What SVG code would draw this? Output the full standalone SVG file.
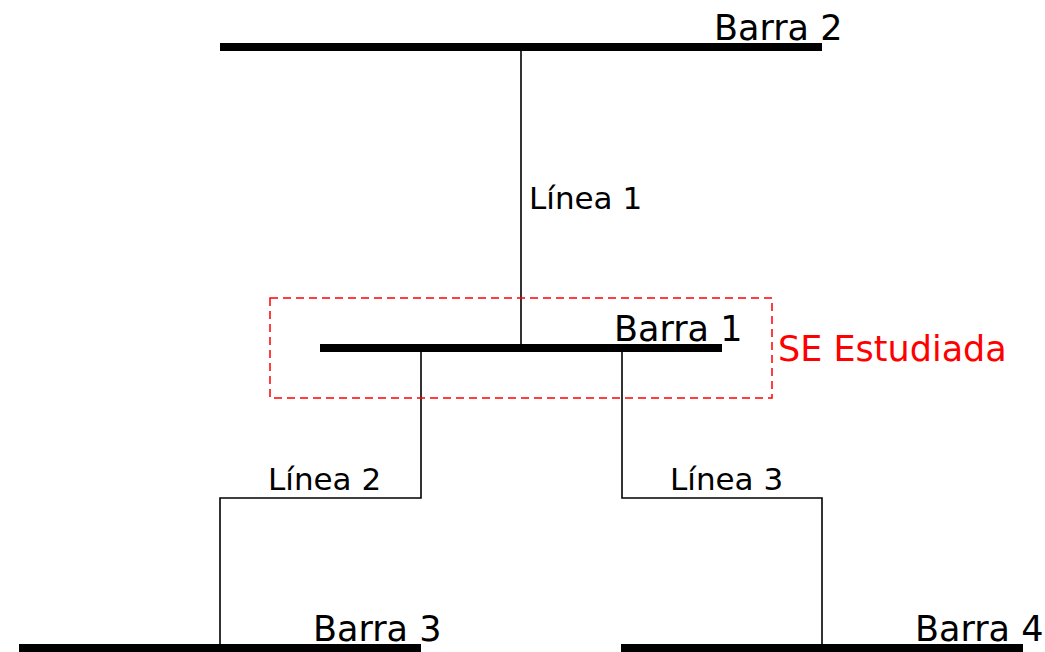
<svg xmlns="http://www.w3.org/2000/svg" width="1045" height="652" viewBox="0 0 1045 652">
<style>
.bus{stroke:#000;stroke-width:8;fill:none}
.ln{stroke:#000;stroke-width:1.6;fill:none}
.lbl{font-family:"DejaVu Sans",sans-serif;font-size:35px;fill:#000}
.llbl{font-family:"DejaVu Sans",sans-serif;font-size:31px;fill:#000}
.se{font-family:"DejaVu Sans",sans-serif;font-size:35px;fill:#ff0000}
</style>
<rect width="1045" height="652" fill="#fff"/>
<g id="connectors">
<path class="ln" d="M521 51V345"/>
<path class="ln" d="M421 352V498H220V645"/>
<path class="ln" d="M622 352V498H822V645"/>
</g>
<g id="se">
<rect x="270" y="298" width="502" height="100" fill="none" stroke="#ff0000" stroke-width="1.5" stroke-dasharray="8,5"/>
<text class="se" x="778" y="361">SE Estudiada</text>
</g>
<g id="barra2">
<path class="bus" d="M220 47H822"/>
<text class="lbl" x="714" y="40">Barra 2</text>
</g>
<g id="barra1">
<path class="bus" d="M320 348H722"/>
<text class="lbl" x="614" y="341">Barra 1</text>
</g>
<g id="barra3">
<path class="bus" d="M19 648H421"/>
<text class="lbl" x="313" y="641">Barra 3</text>
</g>
<g id="barra4">
<path class="bus" d="M621 648H1023"/>
<text class="lbl" x="915" y="641">Barra 4</text>
</g>
<g id="labels">
<text class="llbl" x="529" y="209">Línea 1</text>
<text class="llbl" x="268" y="490">Línea 2</text>
<text class="llbl" x="670" y="490">Línea 3</text>
</g>
</svg>
